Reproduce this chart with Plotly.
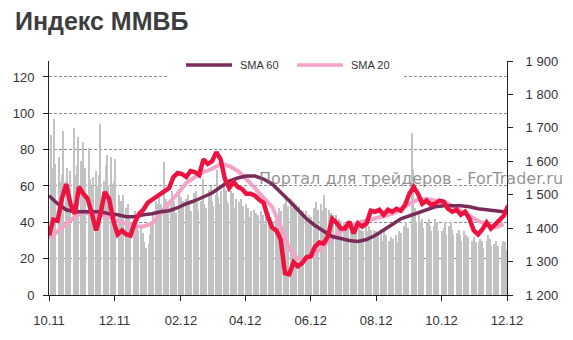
import pandas as pd
import plotly.graph_objects as go

# MICEX index, sampled every 4 days starting 2011-10-01
index_start = "2011-10-01"
index_values = [
    1378, 1425, 1422, 1488, 1532, 1473, 1443, 1523, 1503, 1488,
    1443, 1393, 1443, 1508, 1488, 1422, 1381, 1393, 1381, 1378,
    1417, 1443, 1455, 1476, 1485, 1494, 1500, 1511, 1520, 1553,
    1565, 1562, 1553, 1571, 1568, 1559, 1606, 1592, 1600, 1627,
    1606, 1547, 1520, 1538, 1523, 1517, 1503, 1503, 1497, 1485,
    1476, 1434, 1402, 1393, 1366, 1265, 1262, 1298, 1286, 1295,
    1313, 1316, 1345, 1357, 1354, 1375, 1428, 1417, 1399, 1399,
    1419, 1384, 1414, 1405, 1414, 1452, 1449, 1455, 1440, 1455,
    1449, 1458, 1452, 1470, 1503, 1523, 1503, 1473, 1482, 1470,
    1473, 1482, 1479, 1458, 1449, 1455, 1440, 1449, 1428, 1393,
    1381, 1396, 1417, 1399, 1411, 1422, 1437, 1467,
]

# Moving averages, sampled every 8 days starting 2011-10-01
sma_start = "2011-10-01"
sma20_values = [
    1369, 1390, 1414, 1434, 1449, 1440, 1440, 1434, 1422, 1414,
    1405, 1405, 1414, 1443, 1476, 1503, 1535, 1553, 1568, 1577,
    1592, 1586, 1571, 1547, 1520, 1494, 1464, 1405, 1339, 1307,
    1304, 1322, 1348, 1369, 1390, 1405, 1417, 1422, 1428, 1434,
    1443, 1455, 1473, 1485, 1488, 1482, 1479, 1467, 1452, 1437,
    1422, 1411, 1402, 1411,
]
sma60_values = [
    1497, 1473, 1455, 1449, 1449, 1449, 1449, 1443, 1440, 1434,
    1434, 1440, 1443, 1449, 1452, 1461, 1473, 1482, 1494, 1505,
    1523, 1541, 1550, 1556, 1556, 1547, 1532, 1508, 1482, 1455,
    1428, 1408, 1390, 1375, 1369, 1363, 1360, 1366, 1378, 1396,
    1411, 1428, 1437, 1446, 1455, 1464, 1467, 1467, 1467, 1464,
    1458, 1455, 1452, 1449,
]

# Daily trading volume (left axis), business days from 2011-10-03
volume_start = "2011-10-03"
volume_values = [
    88, 70, 64, 97, 72,
    76, 62, 58, 66, 90,
    63, 70, 57, 61, 68,
    92, 66, 59, 71, 87,
    74, 60, 84, 65, 70,
    81, 64, 58, 60, 65,
    68, 60, 57, 66, 94,
    63, 59, 71, 77, 60,
    76, 61, 56, 62, 75,
    55, 47, 52, 45, 55,
    48, 42, 50, 44, 40,
    41, 46, 38, 43, 36,
    37, 31, 34, 29, 26,
    28, 33, 38, 41, 44,
    52, 48, 50, 55, 50,
    73, 49, 53, 46, 51,
    50, 57, 47, 52, 45,
    57, 50, 54, 48, 52,
    53, 47, 55, 50, 46,
    56, 49, 57, 51, 47,
    52, 46, 64, 50, 48,
    58, 53, 60, 52, 49,
    55, 69, 54, 50, 57,
    62, 55, 58, 52, 50,
    57, 51, 56, 48, 53,
    51, 47, 53, 46, 49,
    50, 45, 48, 43, 46,
    47, 42, 45, 40, 44,
    46, 41, 44, 39, 43,
    45, 40, 43, 38, 41,
    44, 42, 48, 40, 46,
    50, 45, 55, 47, 49,
    53, 48, 51, 46, 50,
    49, 44, 47, 43, 46,
    46, 41, 44, 40, 43,
    48, 44, 51, 45, 47,
    50, 46, 55, 44, 48,
    47, 42, 45, 40, 44,
    44, 39, 42, 37, 41,
    40, 36, 39, 34, 38,
    38, 34, 40, 33, 36,
    37, 33, 36, 32, 35,
    39, 35, 38, 33, 36,
    36, 32, 35, 31, 34,
    34, 30, 36, 31, 33,
    30, 28, 32, 29, 31,
    33, 29, 35, 31, 34,
    38, 34, 40, 36, 37,
    89, 69, 44, 48, 40,
    45, 38, 40, 42, 37,
    40, 36, 42, 38, 35,
    38, 42, 36, 40, 35,
    35, 31, 37, 40, 33,
    38, 34, 40, 36, 33,
    34, 31, 36, 33, 30,
    35, 31, 33, 29, 32,
    30, 28, 32, 27, 29,
    29, 31, 27, 30, 26,
    30, 33, 28, 31, 27,
    28, 26, 30, 25, 27,
    27, 30, 26, 29, 25,
]

left_ticks = [0, 20, 40, 60, 80, 100, 120]
right_ticks = [1200, 1300, 1400, 1500, 1600, 1700, 1800, 1900]

index_dates = pd.date_range(index_start, periods=len(index_values), freq="4D")
sma_dates = pd.date_range(sma_start, periods=len(sma20_values), freq="8D")
volume_dates = pd.bdate_range(volume_start, periods=len(volume_values))

W, H = 573, 340
L, R, T, B = 49, 66, 61, 43
pw, ph = W - L - R, H - T - B


def px_x(px):
    return (px - L) / pw


def px_y(py):
    return (H - B - py) / ph


RED = "#EE1240"
SMA60_C = "#7A2C58"
SMA20_C = "#F3A3C8"
TXT = "#333333"

fig = go.Figure()
fig.add_trace(go.Bar(x=volume_dates, y=volume_values, marker=dict(color="#C2C2C2", line=dict(width=0)),
                     yaxis="y", showlegend=False, hoverinfo="skip"))
fig.add_trace(go.Scatter(x=sma_dates, y=sma20_values, mode="lines", name="SMA 20",
                         line=dict(color=SMA20_C, width=4), yaxis="y2", showlegend=False))
fig.add_trace(go.Scatter(x=sma_dates, y=sma60_values, mode="lines", name="SMA 60",
                         line=dict(color=SMA60_C, width=3.5), yaxis="y2", showlegend=False))
fig.add_trace(go.Scatter(x=index_dates, y=index_values, mode="lines", name="ММВБ",
                         line=dict(color=RED, width=4.5), yaxis="y2", showlegend=False))

font_family = "Liberation Sans, Arial, sans-serif"

fig.update_layout(
    width=W, height=H,
    margin=dict(l=L, r=R, t=T, b=B, pad=0),
    paper_bgcolor="white", plot_bgcolor="white",
    separators=". ",
    bargap=0,
    font=dict(family=font_family, size=13, color=TXT),
    title=dict(text="<b>Индекс ММВБ</b>", x=15 / W, xanchor="left", xref="container",
               y=1 - 21 / H, yanchor="middle", yref="container",
               font=dict(size=25, color="#3d3d3d", family=font_family)),
    xaxis=dict(type="date", range=["2011-10-01", "2012-12-01"], tick0="2011-10-01", dtick="M2",
               tickformat="%m.%y", showgrid=False, showline=True, linecolor="#222", linewidth=1,
               ticks="outside", ticklen=5, tickcolor="#222", ticklabelstandoff=8,
               tickfont=dict(size=13, color=TXT), zeroline=False),
    yaxis=dict(range=[0, 128.8], tickvals=left_ticks, showgrid=True, gridcolor="#8a8a8a",
               griddash="3px,2px", gridwidth=1, showline=True, linecolor="#222", linewidth=1,
               ticks="outside", ticklen=5, tickcolor="#222", ticklabelstandoff=6,
               tickfont=dict(size=13, color=TXT), zeroline=False),
    yaxis2=dict(range=[1200, 1900], tickvals=right_ticks, tickformat=",d", overlaying="y", side="right",
                showgrid=False, showline=True, linecolor="#222", linewidth=1,
                ticks="outside", ticklen=5, tickcolor="#222", ticklabelstandoff=10,
                tickfont=dict(size=13, color=TXT), zeroline=False),
)

# legend box (custom, to match reference layout)
fig.add_shape(type="rect", xref="paper", yref="paper", x0=px_x(167), x1=px_x(403),
              y0=px_y(81), y1=px_y(52), fillcolor="white", line=dict(width=0), layer="above")
fig.add_shape(type="line", xref="paper", yref="paper", x0=px_x(186), x1=px_x(232),
              y0=px_y(65), y1=px_y(65), line=dict(color=SMA60_C, width=3.5), layer="above")
fig.add_shape(type="line", xref="paper", yref="paper", x0=px_x(297), x1=px_x(343),
              y0=px_y(65), y1=px_y(65), line=dict(color=SMA20_C, width=3.5), layer="above")
fig.add_annotation(text="SMA 60", xref="paper", yref="paper", x=px_x(238), y=px_y(65),
                   xanchor="left", yanchor="middle", showarrow=False,
                   font=dict(size=11, color=TXT, family=font_family))
fig.add_annotation(text="SMA 20", xref="paper", yref="paper", x=px_x(349), y=px_y(65),
                   xanchor="left", yanchor="middle", showarrow=False,
                   font=dict(size=11, color=TXT, family=font_family))

# watermark
fig.add_annotation(text="Портал для трейдеров - ForTrader.ru", xref="paper", yref="paper",
                   x=px_x(257), y=px_y(180), xanchor="left", yanchor="middle", showarrow=False,
                   font=dict(size=16, color="rgba(110,110,110,0.75)", family="DejaVu Sans, sans-serif"))

fig.write_html("out.html")
